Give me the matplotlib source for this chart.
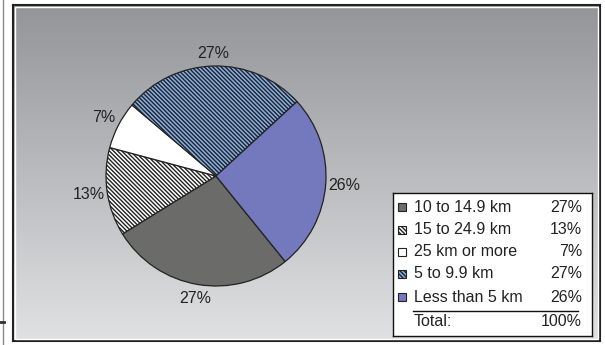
import numpy as np
import matplotlib
matplotlib.use('Agg')
import matplotlib.pyplot as plt
from matplotlib.patches import Rectangle

# data (legend order)
labels = ['10 to 14.9 km', '15 to 24.9 km', '25 km or more', '5 to 9.9 km', 'Less than 5 km']
values = [27, 13, 7, 27, 26]
colors = ['#6b6c69', '#ffffff', '#ffffff', '#86b0e6', '#7479bd']
hatches = [None, '\\' * 8, None, '\\' * 8, None]
total_label = 'Total:'

plt.rcParams['font.family'] = ['Liberation Sans', 'DejaVu Sans']
plt.rcParams['hatch.linewidth'] = 1.0

W, H = 605, 345
fig = plt.figure(figsize=(W / 100, H / 100), dpi=100)
fig.patch.set_facecolor('white')


def px_axes(x0, y0, w, h, **kw):
    # pixel box (top-left origin) -> figure axes
    return fig.add_axes([x0 / W, 1 - (y0 + h) / H, w / W, h / H], **kw)


# stray line on the far left
fig.add_artist(plt.Line2D([2.5 / W, 2.5 / W], [0, 1], color='#8a8a8a', lw=1))
fig.add_artist(plt.Line2D([0, 4 / W], [1 - 322 / H, 1 - 322 / H], color='#333333', lw=2))

# chart area with vertical gradient
bg = px_axes(13, 5, 587, 336)
grad = np.linspace(0, 1, 256).reshape(-1, 1)
top = np.array([0x93, 0x95, 0x98]) / 255
bot = np.array([0xe0, 0xe1, 0xe3]) / 255
img = top + (bot - top) * grad[..., None]
bg.imshow(img, aspect='auto', extent=[0, 1, 0, 1])
bg.set_xticks([])
bg.set_yticks([])
for s in bg.spines.values():
    s.set_color('#222222')
    s.set_linewidth(1.5)
fig.add_artist(Rectangle((15 / W, 1 - 339 / H), 583 / W, 332 / H, fill=False,
                         edgecolor='white', lw=1, transform=fig.transFigure))

# pie
cx, cy, r = 216, 176, 110
ax = px_axes(cx - r, cy - r, 2 * r, 2 * r)
ax.patch.set_alpha(0)
wedges, texts, autotexts = ax.pie(
    values, colors=colors, startangle=-51, counterclock=False,
    autopct='%d%%', pctdistance=1.12, radius=1,
    wedgeprops=dict(edgecolor='#222222', linewidth=0.9),
    textprops=dict(fontsize=11.5, color='#222222'))
for w, h in zip(wedges, hatches):
    if h:
        w.set_hatch(h)
# place labels just outside the rim, like excel does
for w, t in zip(wedges, autotexts):
    a = np.deg2rad((w.theta1 + w.theta2) / 2)
    hw = 7.5 * len(t.get_text()) / 2 + 1
    d = r + 6 + abs(np.cos(a)) * hw + abs(np.sin(a)) * 6
    t.set_position((d / r * np.cos(a), d / r * np.sin(a)))
    t.set_ha('center')
    t.set_va('center')
ax.set_xlim(-1, 1)
ax.set_ylim(-1, 1)

# legend table
lg = px_axes(393, 193, 199, 143)
lg.set_xlim(393, 592)
lg.set_ylim(336, 193)
lg.set_xticks([])
lg.set_yticks([])
for s in lg.spines.values():
    s.set_color('#111111')
    s.set_linewidth(1)
lg.set_facecolor('white')
rows_y = [207, 230, 252, 274, 297]
for i, lab in enumerate(labels):
    y = rows_y[i]
    lg.add_patch(Rectangle((398, y - 4), 8, 8, facecolor=colors[i], edgecolor='#222222',
                           lw=0.8, hatch=hatches[i]))
    lg.text(414, y, lab, fontsize=11.5, color='#222222', va='center', ha='left')
    lg.text(582, y, '%d%%' % values[i], fontsize=11.5, color='#222222', va='center', ha='right')
lg.plot([413, 578], [311, 311], color='#111111', lw=1)
lg.text(414, 322, total_label, fontsize=11.5, color='#222222', va='center', ha='left')
lg.text(582, 322, '%d%%' % sum(values), fontsize=11.5, color='#222222', va='center', ha='right')

fig.savefig('out.png', dpi=100)
